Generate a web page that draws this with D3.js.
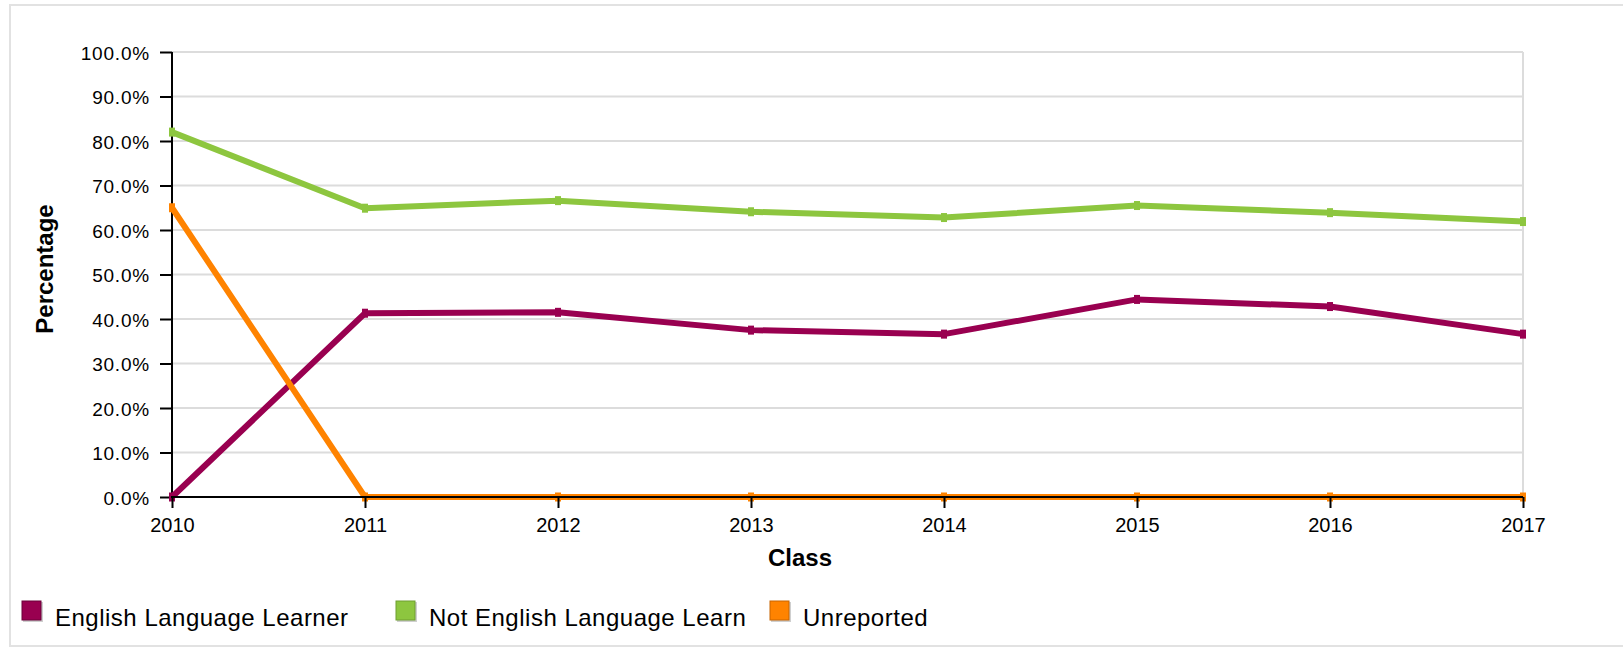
<!DOCTYPE html>
<html>
<head>
<meta charset="utf-8">
<script src="https://cdn.jsdelivr.net/npm/d3@7"></script>
<style>
  body { margin: 0; background: #fff; }
  text { font-family: "Liberation Sans", Arial, sans-serif; fill: #000; }
</style>
</head>
<body>
<svg id="chart" width="1623" height="647"></svg>
<script>
// data
var years = ["2010", "2011", "2012", "2013", "2014", "2015", "2016", "2017"];
var ell = [0, 41.3, 41.5, 37.5, 36.6, 44.4, 42.8, 36.6];
var notEll = [82.0, 64.9, 66.6, 64.1, 62.8, 65.5, 63.9, 61.9];
var unreported = [65.0, 0, 0, 0, 0, 0, 0, 0];
var seriesNames = ["English Language Learner", "Not English Language Learn", "Unreported"];
var yTicks = [0, 10, 20, 30, 40, 50, 60, 70, 80, 90, 100];

var colors = ["#990050", "#8dc63f", "#ff8300"];
var borders = ["#6b0038", "#6f9e30", "#c86400"];

var svg = d3.select("#chart"),
    width = +svg.attr("width"),
    height = +svg.attr("height");

// note: "top" is reserved on window, so plot edges get their own names
var plotLeft = 172, plotRight = 1523, plotTop = 52, plotBottom = 497;

// outer frame
svg.append("rect")
    .attr("x", 10).attr("y", 5)
    .attr("width", 1620).attr("height", 641)
    .attr("fill", "none")
    .attr("stroke", "#e2e2e2")
    .attr("stroke-width", 2);

var x = d3.scalePoint()
    .domain(years)
    .range([plotLeft, plotRight]);

var y = d3.scaleLinear()
    .domain([0, 100])
    .range([plotBottom, plotTop]);

// grid
svg.append("g")
    .selectAll("line")
    .data(yTicks)
    .enter().append("line")
    .attr("x1", plotLeft).attr("x2", plotRight)
    .attr("y1", function(d) { return y(d); })
    .attr("y2", function(d) { return y(d); })
    .attr("stroke", "#dcdcdc")
    .attr("stroke-width", 2);

svg.append("line")
    .attr("x1", plotRight).attr("x2", plotRight)
    .attr("y1", plotTop).attr("y2", plotBottom)
    .attr("stroke", "#dcdcdc")
    .attr("stroke-width", 2);

// y axis
var yAxis = svg.append("g")
    .attr("transform", "translate(" + plotLeft + ",0)")
    .call(d3.axisLeft(y)
        .tickValues(yTicks)
        .tickSize(12)
        .tickPadding(10)
        .tickFormat(function(d) { return d.toFixed(1) + "%"; }));
yAxis.select(".domain").attr("stroke", "#000").attr("stroke-width", 2)
    .attr("d", "M0," + plotTop + "V" + (plotBottom + 1));
yAxis.selectAll(".tick line").attr("stroke", "#000").attr("stroke-width", 2);
yAxis.selectAll(".tick text")
    .attr("font-size", 19)
    .attr("letter-spacing", 0.8)
    .attr("font-family", "Liberation Sans, Arial, sans-serif")
    .attr("dy", "0.38em");

// lines
var all = [ell, notEll, unreported];
var line = d3.line()
    .x(function(d, i) { return x(years[i]); })
    .y(function(d) { return y(d); });

all.forEach(function(vals, k) {
    svg.append("path")
        .datum(vals)
        .attr("fill", "none")
        .attr("stroke", colors[k])
        .attr("stroke-width", 6)
        .attr("stroke-linejoin", "bevel")
        .attr("d", line);
    svg.append("g")
        .selectAll("rect")
        .data(vals)
        .enter().append("rect")
        .attr("x", function(d, i) { return x(years[i]) - 3; })
        .attr("y", function(d) { return y(d) - 4.5; })
        .attr("width", 6)
        .attr("height", 9)
        .attr("fill", colors[k]);
});

// x axis
var xAxis = svg.append("g")
    .attr("transform", "translate(0," + plotBottom + ")")
    .call(d3.axisBottom(x)
        .tickSize(11)
        .tickPadding(10));
xAxis.select(".domain").attr("stroke", "#000").attr("stroke-width", 2)
    .attr("d", "M" + (plotLeft - 1) + ",0H" + plotRight);
xAxis.selectAll(".tick line").attr("stroke", "#000").attr("stroke-width", 2);
xAxis.selectAll(".tick text")
    .attr("font-size", 20)
    .attr("font-family", "Liberation Sans, Arial, sans-serif")
    .attr("y", 35)
    .attr("dy", 0);

// axis titles
svg.append("text")
    .attr("x", 800)
    .attr("y", 566)
    .attr("text-anchor", "middle")
    .attr("font-weight", "bold")
    .attr("font-size", 24)
    .text("Class");

svg.append("text")
    .attr("transform", "translate(53,269) rotate(-90)")
    .attr("text-anchor", "middle")
    .attr("font-weight", "bold")
    .attr("font-size", 24)
    .text("Percentage");

// legend
var legendX = [22, 396, 770];
var legend = svg.append("g")
    .selectAll("g")
    .data(seriesNames)
    .enter().append("g")
    .attr("transform", function(d, i) { return "translate(" + legendX[i] + ",601)"; });

legend.append("rect")
    .attr("x", 1).attr("y", 1)
    .attr("width", 20).attr("height", 20)
    .attr("fill", "#cfcfcf");

legend.append("rect")
    .attr("width", 19).attr("height", 19)
    .attr("fill", function(d, i) { return colors[i]; })
    .attr("stroke", function(d, i) { return borders[i]; })
    .attr("stroke-width", 1);

legend.append("text")
    .attr("x", 33)
    .attr("y", 25)
    .attr("font-size", 24)
    .attr("letter-spacing", 0.5)
    .text(function(d) { return d; });
</script>
</body>
</html>
